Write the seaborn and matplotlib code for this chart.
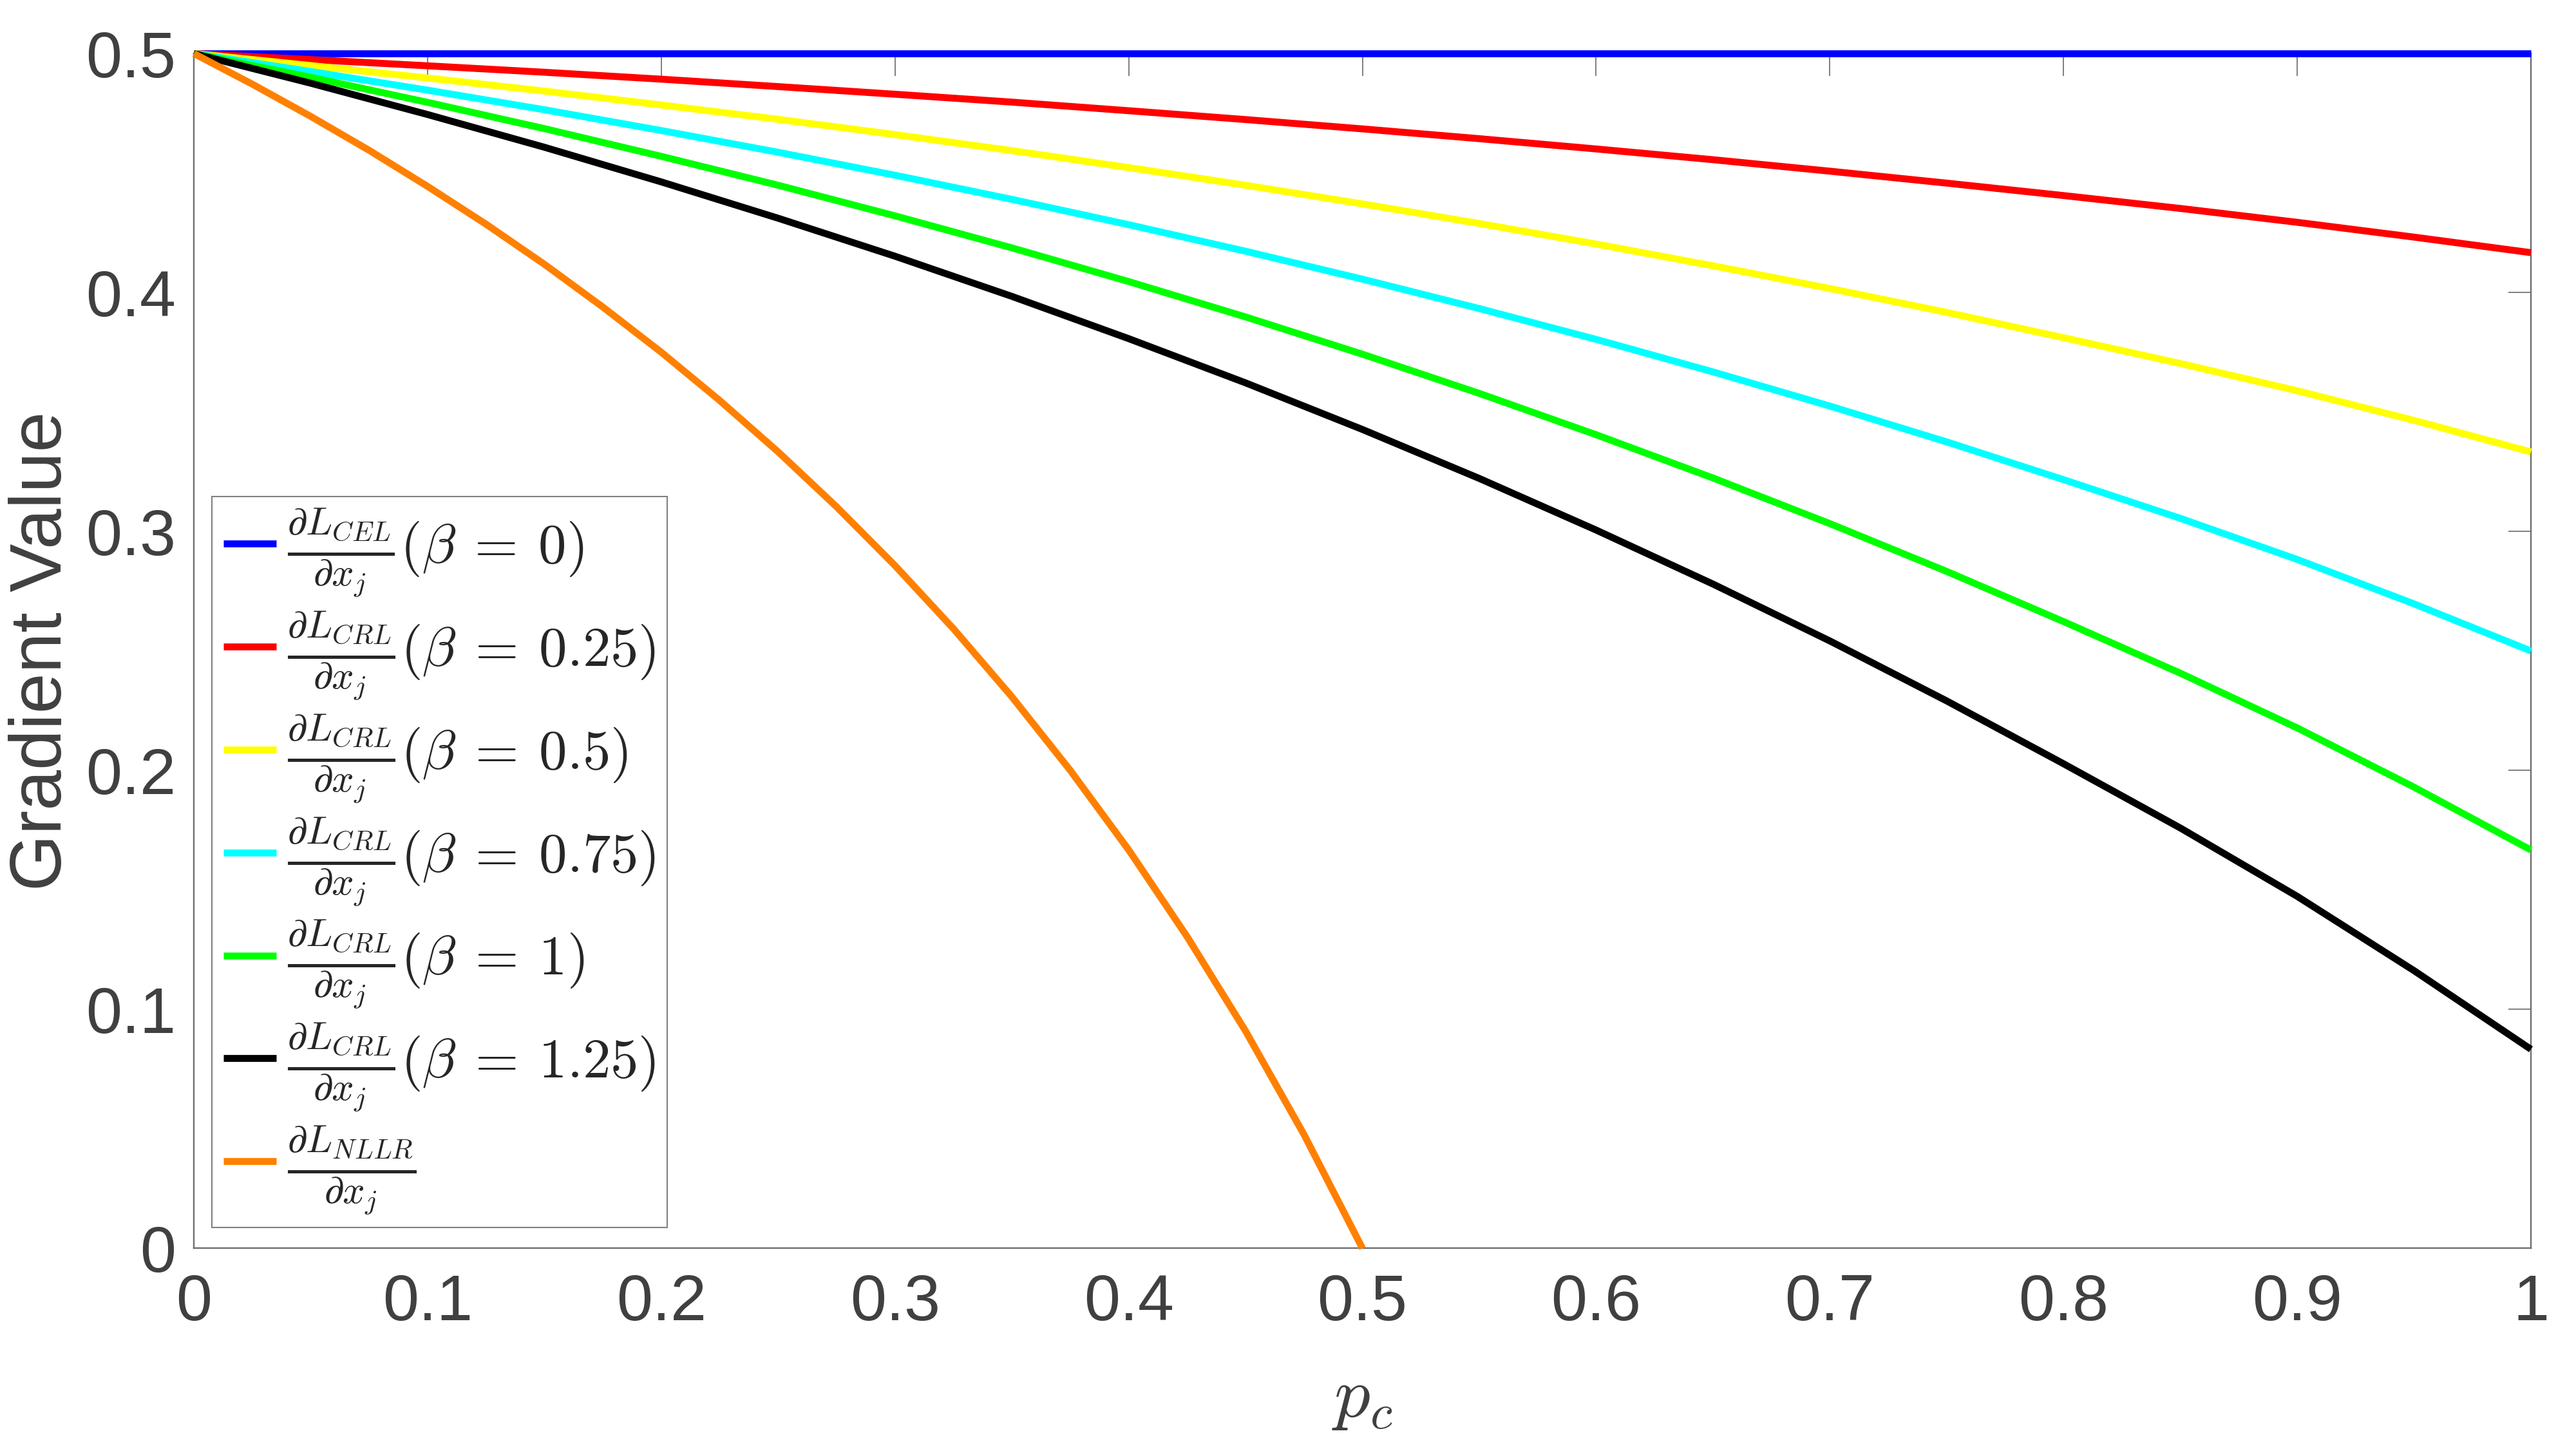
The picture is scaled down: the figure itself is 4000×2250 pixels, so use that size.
import numpy as np
import pandas as pd
import matplotlib
matplotlib.use('Agg')
import matplotlib.pyplot as plt
import seaborn as sns

# values
p_grid = [0.00, 0.05, 0.10, 0.15, 0.20, 0.25, 0.30, 0.35, 0.40, 0.45, 0.50,
          0.55, 0.60, 0.65, 0.70, 0.75, 0.80, 0.85, 0.90, 0.95, 1.00]

g_cel = [0.5000] * 21
g_crl_025 = [0.5000, 0.4975, 0.4949, 0.4922, 0.4893, 0.4862, 0.4830, 0.4797, 0.4761, 0.4724, 0.4685,
             0.4644, 0.4601, 0.4556, 0.4508, 0.4458, 0.4406, 0.4352, 0.4294, 0.4232, 0.4167]
g_crl_05 = [0.5000, 0.4950, 0.4898, 0.4843, 0.4785, 0.4725, 0.4661, 0.4594, 0.4523, 0.4449, 0.4371,
            0.4289, 0.4203, 0.4112, 0.4017, 0.3917, 0.3811, 0.3703, 0.3589, 0.3465, 0.3333]
g_crl_075 = [0.5000, 0.4925, 0.4847, 0.4765, 0.4678, 0.4587, 0.4491, 0.4390, 0.4284, 0.4173, 0.4056,
             0.3933, 0.3804, 0.3668, 0.3525, 0.3375, 0.3217, 0.3055, 0.2883, 0.2697, 0.2500]
g_crl_1 = [0.5000, 0.4901, 0.4796, 0.4686, 0.4570, 0.4449, 0.4321, 0.4187, 0.4046, 0.3898, 0.3742,
           0.3578, 0.3405, 0.3224, 0.3033, 0.2833, 0.2623, 0.2407, 0.2178, 0.1930, 0.1667]
g_crl_125 = [0.5000, 0.4876, 0.4745, 0.4608, 0.4463, 0.4311, 0.4152, 0.3984, 0.3807, 0.3622, 0.3427,
             0.3222, 0.3006, 0.2780, 0.2542, 0.2291, 0.2028, 0.1759, 0.1473, 0.1162, 0.0833]

p_nllr = [0.000, 0.025, 0.050, 0.075, 0.100, 0.125, 0.150, 0.175, 0.200, 0.225, 0.250,
          0.275, 0.300, 0.325, 0.350, 0.375, 0.400, 0.425, 0.450, 0.475, 0.500]
g_nllr = [0.5000, 0.4872, 0.4737, 0.4595, 0.4444, 0.4286, 0.4118, 0.3939, 0.3750, 0.3548, 0.3333,
          0.3103, 0.2857, 0.2593, 0.2308, 0.2000, 0.1667, 0.1304, 0.0909, 0.0476, 0.0000]

labels = [
    r'$\frac{\partial L_{CEL}}{\partial x_j}(\beta\:=\:0)$',
    r'$\frac{\partial L_{CRL}}{\partial x_j}(\beta\:=\:0.25)$',
    r'$\frac{\partial L_{CRL}}{\partial x_j}(\beta\:=\:0.5)$',
    r'$\frac{\partial L_{CRL}}{\partial x_j}(\beta\:=\:0.75)$',
    r'$\frac{\partial L_{CRL}}{\partial x_j}(\beta\:=\:1)$',
    r'$\frac{\partial L_{CRL}}{\partial x_j}(\beta\:=\:1.25)$',
    r'$\frac{\partial L_{NLLR}}{\partial x_j}$',
]
colors = ['#0000ff', '#ff0000', '#ffff00', '#00ffff', '#00ff00', '#000000', '#ff8000']

xticks = [0, 0.1, 0.2, 0.3, 0.4, 0.5, 0.6, 0.7, 0.8, 0.9, 1]
xtick_labels = ['0', '0.1', '0.2', '0.3', '0.4', '0.5', '0.6', '0.7', '0.8', '0.9', '1']
yticks = [0, 0.1, 0.2, 0.3, 0.4, 0.5]
ytick_labels = ['0', '0.1', '0.2', '0.3', '0.4', '0.5']

series = [g_cel, g_crl_025, g_crl_05, g_crl_075, g_crl_1, g_crl_125]
frames = [pd.DataFrame({'p': p_grid, 'g': s, 'curve': lab}) for s, lab in zip(series, labels[:6])]
frames.append(pd.DataFrame({'p': p_nllr, 'g': g_nllr, 'curve': labels[6]}))
df = pd.concat(frames, ignore_index=True)

sns.set_theme(style='white')
plt.rcParams['font.family'] = ['Liberation Sans', 'DejaVu Sans']
plt.rcParams['mathtext.fontset'] = 'cm'

fig = plt.figure(figsize=(16, 9), dpi=250)
ax = fig.add_axes([0.0753, 0.1385, 0.9072, 0.8245])

sns.lineplot(data=df, x='p', y='g', hue='curve', hue_order=labels,
             palette=dict(zip(labels, colors)), linewidth=3.1,
             estimator=None, sort=False, legend=False, ax=ax)
for ln in ax.lines:
    ln.set_clip_on(False)
    ln.set_zorder(3)
    ln.set_solid_capstyle('butt')
    ln.set_solid_joinstyle('round')

ax.set_xlim(0, 1)
ax.set_ylim(0, 0.5)
ax.set_xticks(xticks)
ax.set_xticklabels(xtick_labels)
ax.set_yticks(yticks)
ax.set_yticklabels(ytick_labels)
ax.tick_params(direction='in', top=True, right=True, length=10, width=0.5,
               color='#707070', labelsize=29, labelcolor='#404040')
ax.tick_params(axis='x', pad=11)
ax.tick_params(axis='y', pad=8)
for sp in ax.spines.values():
    sp.set_color('#707070')
    sp.set_linewidth(0.7)
    sp.set_visible(True)

ax.set_xlabel(r'$p_c$', fontsize=32, color='#404040', labelpad=14)
ax.set_ylabel('Gradient Value', fontsize=32.5, color='#404040', labelpad=4)

leg = ax.legend(handles=ax.lines[:7], labels=labels, loc='lower left',
                bbox_to_anchor=(0.0077, 0.0173), borderaxespad=0,
                fontsize=25, handlelength=0.95, handletextpad=0.2,
                labelspacing=0.2, borderpad=0.2, frameon=True,
                fancybox=False, framealpha=1, edgecolor='#808080')
leg.get_frame().set_linewidth(0.6)
leg.set_zorder(5)

fig.savefig('out.png', dpi=250, facecolor='white')
